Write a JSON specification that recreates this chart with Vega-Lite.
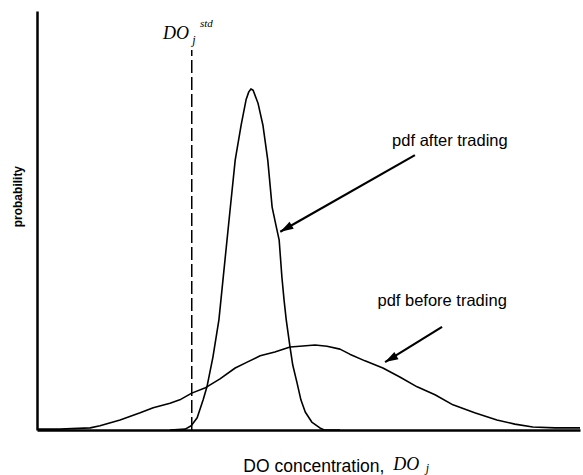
{
  "$schema": "https://vega.github.io/schema/vega-lite/v6.json",
  "autosize": "none",
  "width": 543,
  "height": 419,
  "padding": {"left": 37, "top": 11, "right": 3, "bottom": 45},
  "background": "white",
  "config": {
    "view": {"stroke": null},
    "axis": {"grid": false, "ticks": false, "labels": false, "title": null, "domainColor": "black", "domainWidth": 2.5}
  },
  "datasets": {
    "pdfs": [
      {"series": "after", "x": 2.45, "y": 0},
      {"series": "after", "x": 2.73, "y": 0.002},
      {"series": "after", "x": 2.84, "y": 0.010},
      {"series": "after", "x": 2.95, "y": 0.029},
      {"series": "after", "x": 3.06, "y": 0.072},
      {"series": "after", "x": 3.13, "y": 0.103},
      {"series": "after", "x": 3.24, "y": 0.174},
      {"series": "after", "x": 3.35, "y": 0.263},
      {"series": "after", "x": 3.43, "y": 0.365},
      {"series": "after", "x": 3.55, "y": 0.518},
      {"series": "after", "x": 3.65, "y": 0.644},
      {"series": "after", "x": 3.76, "y": 0.728},
      {"series": "after", "x": 3.85, "y": 0.788},
      {"series": "after", "x": 3.90, "y": 0.807},
      {"series": "after", "x": 3.94, "y": 0.814},
      {"series": "after", "x": 3.98, "y": 0.811},
      {"series": "after", "x": 4.07, "y": 0.780},
      {"series": "after", "x": 4.16, "y": 0.728},
      {"series": "after", "x": 4.25, "y": 0.644},
      {"series": "after", "x": 4.33, "y": 0.532},
      {"series": "after", "x": 4.40, "y": 0.489},
      {"series": "after", "x": 4.46, "y": 0.453},
      {"series": "after", "x": 4.51, "y": 0.365},
      {"series": "after", "x": 4.55, "y": 0.310},
      {"series": "after", "x": 4.59, "y": 0.263},
      {"series": "after", "x": 4.66, "y": 0.198},
      {"series": "after", "x": 4.71, "y": 0.155},
      {"series": "after", "x": 4.79, "y": 0.112},
      {"series": "after", "x": 4.86, "y": 0.072},
      {"series": "after", "x": 4.94, "y": 0.043},
      {"series": "after", "x": 5.06, "y": 0.019},
      {"series": "after", "x": 5.21, "y": 0.005},
      {"series": "after", "x": 5.29, "y": 0},
      {"series": "after", "x": 5.58, "y": 0},
      {"series": "before", "x": 0.0, "y": 0.002},
      {"series": "before", "x": 0.42, "y": 0.002},
      {"series": "before", "x": 0.98, "y": 0.005},
      {"series": "before", "x": 1.16, "y": 0.010},
      {"series": "before", "x": 1.53, "y": 0.024},
      {"series": "before", "x": 1.90, "y": 0.041},
      {"series": "before", "x": 2.14, "y": 0.053},
      {"series": "before", "x": 2.45, "y": 0.064},
      {"series": "before", "x": 2.63, "y": 0.072},
      {"series": "before", "x": 2.85, "y": 0.088},
      {"series": "before", "x": 3.09, "y": 0.100},
      {"series": "before", "x": 3.37, "y": 0.122},
      {"series": "before", "x": 3.65, "y": 0.148},
      {"series": "before", "x": 3.87, "y": 0.162},
      {"series": "before", "x": 4.11, "y": 0.177},
      {"series": "before", "x": 4.38, "y": 0.186},
      {"series": "before", "x": 4.66, "y": 0.198},
      {"series": "before", "x": 4.84, "y": 0.200},
      {"series": "before", "x": 5.12, "y": 0.203},
      {"series": "before", "x": 5.34, "y": 0.200},
      {"series": "before", "x": 5.58, "y": 0.193},
      {"series": "before", "x": 5.76, "y": 0.181},
      {"series": "before", "x": 6.04, "y": 0.165},
      {"series": "before", "x": 6.37, "y": 0.148},
      {"series": "before", "x": 6.69, "y": 0.126},
      {"series": "before", "x": 7.00, "y": 0.103},
      {"series": "before", "x": 7.33, "y": 0.084},
      {"series": "before", "x": 7.66, "y": 0.060},
      {"series": "before", "x": 8.06, "y": 0.041},
      {"series": "before", "x": 8.47, "y": 0.024},
      {"series": "before", "x": 8.80, "y": 0.014},
      {"series": "before", "x": 9.13, "y": 0.007},
      {"series": "before", "x": 9.54, "y": 0.005},
      {"series": "before", "x": 10.0, "y": 0.005}
    ],
    "arrows": [
      {"label": "pdf after trading", "x": 6.96, "y": 0.656, "x2": 4.48, "y2": 0.473},
      {"label": "pdf before trading", "x": 7.46, "y": 0.246, "x2": 6.41, "y2": 0.162}
    ]
  },
  "layer": [
    {
      "data": {"values": [{"x": 0, "y": 0}, {"x": 10, "y": 1}]},
      "mark": {"type": "point", "opacity": 0},
      "encoding": {
        "x": {"field": "x", "type": "quantitative", "scale": {"domain": [0, 10], "nice": false, "zero": false}, "axis": {"orient": "bottom"}},
        "y": {"field": "y", "type": "quantitative", "scale": {"domain": [0, 1], "nice": false, "zero": false}, "axis": {"orient": "left"}}
      }
    },
    {
      "data": {"values": [{"x": 2.85, "y": 0, "y2": 0.907}]},
      "mark": {"type": "rule", "color": "black", "strokeWidth": 1.5, "strokeDash": [13, 4]},
      "encoding": {
        "x": {"field": "x", "type": "quantitative"},
        "y": {"field": "y", "type": "quantitative"},
        "y2": {"field": "y2"}
      }
    },
    {
      "data": {"name": "pdfs"},
      "mark": {"type": "line", "color": "black", "strokeWidth": 1.6, "strokeJoin": "round"},
      "encoding": {
        "x": {"field": "x", "type": "quantitative"},
        "y": {"field": "y", "type": "quantitative"},
        "detail": {"field": "series"}
      }
    },
    {
      "data": {"name": "arrows"},
      "mark": {"type": "rule", "color": "black", "strokeWidth": 2.2},
      "encoding": {
        "x": {"field": "x", "type": "quantitative"},
        "y": {"field": "y", "type": "quantitative"},
        "x2": {"field": "x2"},
        "y2": {"field": "y2"}
      }
    },
    {
      "data": {"name": "arrows"},
      "mark": {"type": "point", "shape": "M0,0L-0.55,1.75L0.55,1.75Z", "size": 225, "angle": 240, "filled": true, "color": "black", "opacity": 1, "strokeWidth": 0},
      "encoding": {
        "x": {"field": "x2", "type": "quantitative"},
        "y": {"field": "y2", "type": "quantitative"}
      }
    },
    {
      "data": {"values": [
        {"text": "pdf after trading", "x": 6.54, "y": 0.678},
        {"text": "pdf before trading", "x": 6.27, "y": 0.297}
      ]},
      "mark": {"type": "text", "font": "Liberation Sans", "fontSize": 16.5, "align": "left", "baseline": "alphabetic", "color": "black"},
      "encoding": {
        "x": {"field": "x", "type": "quantitative"},
        "y": {"field": "y", "type": "quantitative"},
        "text": {"field": "text"}
      }
    },
    {
      "data": {"values": [{"text": "DO concentration,", "x": 3.80, "y": -0.0995}]},
      "mark": {"type": "text", "font": "Liberation Sans", "fontSize": 17.5, "align": "left", "baseline": "alphabetic", "color": "black"},
      "encoding": {
        "x": {"field": "x", "type": "quantitative"},
        "y": {"field": "y", "type": "quantitative"},
        "text": {"field": "text"}
      }
    },
    {
      "data": {"values": [{"text": "probability", "x": -0.276, "y": 0.557}]},
      "mark": {"type": "text", "font": "Liberation Sans", "fontSize": 12, "fontWeight": "bold", "angle": 270, "align": "center", "baseline": "alphabetic", "color": "black"},
      "encoding": {
        "x": {"field": "x", "type": "quantitative"},
        "y": {"field": "y", "type": "quantitative"},
        "text": {"field": "text"}
      }
    },
    {
      "data": {"values": [
        {"text": "DO", "x": 6.56, "y": -0.0955},
        {"text": "DO", "x": 2.32, "y": 0.932}
      ]},
      "mark": {"type": "text", "font": "Liberation Serif", "fontStyle": "italic", "fontSize": 18, "align": "left", "baseline": "alphabetic", "color": "black"},
      "encoding": {
        "x": {"field": "x", "type": "quantitative"},
        "y": {"field": "y", "type": "quantitative"},
        "text": {"field": "text"}
      }
    },
    {
      "data": {"values": [
        {"text": "j", "x": 7.16, "y": -0.100},
        {"text": "j", "x": 2.86, "y": 0.921}
      ]},
      "mark": {"type": "text", "font": "Liberation Serif", "fontStyle": "italic", "fontSize": 12, "align": "left", "baseline": "alphabetic", "color": "black"},
      "encoding": {
        "x": {"field": "x", "type": "quantitative"},
        "y": {"field": "y", "type": "quantitative"},
        "text": {"field": "text"}
      }
    },
    {
      "data": {"values": [{"text": "std", "x": 3.0, "y": 0.962}]},
      "mark": {"type": "text", "font": "Liberation Serif", "fontStyle": "italic", "fontSize": 11, "align": "left", "baseline": "alphabetic", "color": "black"},
      "encoding": {
        "x": {"field": "x", "type": "quantitative"},
        "y": {"field": "y", "type": "quantitative"},
        "text": {"field": "text"}
      }
    }
  ]
}
